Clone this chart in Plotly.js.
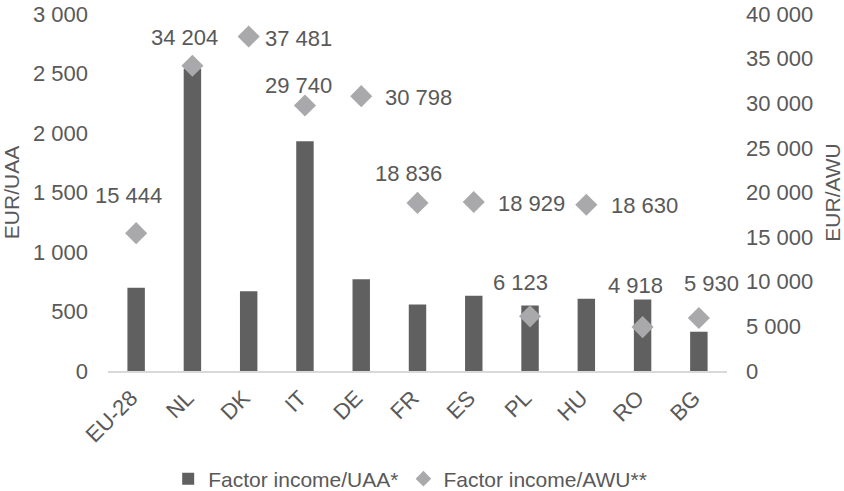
<!DOCTYPE html>
<html>
<head>
<meta charset="utf-8">
<script src="https://cdn.plot.ly/plotly-3.0.1.min.js"></script>
<style>html,body{margin:0;padding:0;background:#fff;}#chart{width:844px;height:491px;}</style>
</head>
<body>
<div id="chart"></div>
<script>
// Data
const categories = ["EU-28", "NL", "DK", "IT", "DE", "FR", "ES", "PL", "HU", "RO", "BG"];
const incomePerUAA = [700, 2540, 670, 1930, 770, 558, 632, 550, 608, 600, 330];
const incomePerAWU = [15444, 34204, 37481, 29740, 30798, 18836, 18929, 6123, 18630, 4918, 5930];
const seriesNames = ["Factor income/UAA*", "Factor income/AWU**"];

// Label placement offsets (px) for the AWU data labels
const labelDx = [-8, -8, 50, -6, 57, -9, 58, -10, 58, -7, 13];
const labelDy = [38, 28, -2, 20, -1, 29, -1, 34, -1, 42, 35];

const textColor = "#595959";
const fontFamily = "Liberation Sans, Arial, sans-serif";
const fmt = v => String(v).replace(/\B(?=(\d{3})+(?!\d))/g, " ");

const traces = [
  {
    type: "bar",
    name: seriesNames[0],
    x: categories,
    y: incomePerUAA,
    width: 0.31,
    marker: {color: "#606060"},
    yaxis: "y",
    hoverinfo: "skip"
  },
  {
    type: "scatter",
    mode: "markers",
    name: seriesNames[1],
    x: categories,
    y: incomePerAWU,
    marker: {symbol: "diamond", size: 17, color: "#a9a9ab"},
    yaxis: "y2",
    hoverinfo: "skip"
  }
];

const annotations = categories.map((c, i) => ({
  x: c, y: incomePerAWU[i], xref: "x", yref: "y2",
  text: fmt(incomePerAWU[i]),
  showarrow: false,
  xanchor: "center", yanchor: "middle",
  xshift: labelDx[i], yshift: labelDy[i],
  font: {size: 22, color: textColor, family: fontFamily}
}));

const layout = {
  width: 844, height: 491,
  margin: {l: 108, r: 117, t: 14, b: 120},
  paper_bgcolor: "#fff", plot_bgcolor: "#fff",
  separators: ". ",
  font: {family: fontFamily, size: 22, color: textColor},
  showlegend: true,
  legend: {
    orientation: "h", x: 0.486, xanchor: "center", xref: "container",
    y: 0.0244, yanchor: "middle", yref: "container",
    font: {size: 21, color: textColor},
    itemwidth: 30, itemsizing: "constant", tracegroupgap: 0
  },
  xaxis: {
    type: "category",
    range: [-0.5, categories.length - 0.5],
    tickangle: -45,
    showline: true, linecolor: "#d9d9d9", linewidth: 1.5,
    showgrid: false, zeroline: false,
    ticks: "", tickfont: {size: 22, color: textColor},
    ticklabelshift: -5, ticklabelstandoff: 4,
    automargin: false
  },
  yaxis: {
    range: [0, 3000], dtick: 500, tickformat: ",d",
    showgrid: false, zeroline: false, showline: false,
    ticks: "", ticklabelstandoff: 19,
    tickfont: {size: 22, color: textColor},
    title: {text: "EUR/UAA", font: {size: 21, color: textColor}, standoff: 7},
    automargin: false
  },
  yaxis2: {
    range: [0, 40000], dtick: 5000, tickformat: ",d",
    overlaying: "y", side: "right",
    showgrid: false, zeroline: false, showline: false,
    ticks: "", ticklabelstandoff: 18,
    tickfont: {size: 22, color: textColor},
    title: {text: "EUR/AWU", font: {size: 21, color: textColor}, standoff: 13},
    automargin: false
  },
  annotations: annotations
};

Plotly.newPlot("chart", traces, layout, {displayModeBar: false, staticPlot: true});
</script>
</body>
</html>
